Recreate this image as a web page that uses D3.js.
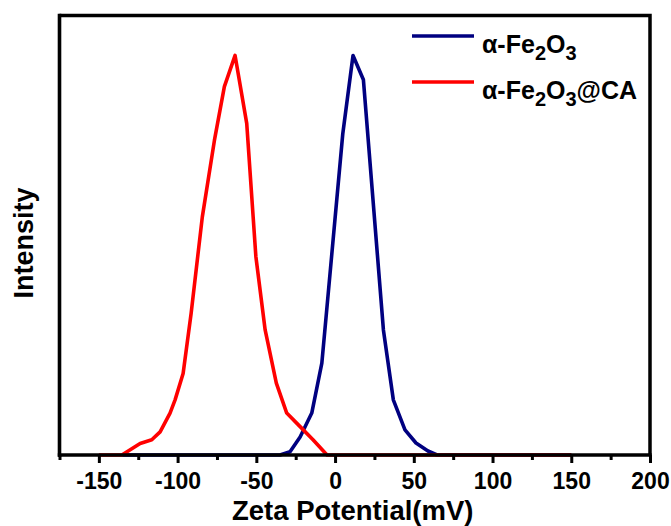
<!DOCTYPE html>
<html>
<head>
<meta charset="utf-8">
<script src="https://cdn.jsdelivr.net/npm/d3@7/dist/d3.min.js"></script>
<style>
  html, body { margin: 0; padding: 0; background: #fff; }
  svg text { font-family: "Liberation Sans", Arial, sans-serif; font-weight: bold; fill: #000; }
</style>
</head>
<body>
<svg id="chart" width="671" height="526"></svg>
<script>
// Zeta potential distributions (mV vs. relative intensity)
const feZeta      = [-135, -35, -28.6, -22.2, -14.8, -8.4, -6.3, 4.9, 11.4, 18, 30.7, 37, 44.4, 51.4, 59, 64.8, 150];
const feIntensity = [0, 0, 0.8, 4.5, 10.5, 23, 32, 80.4, 100, 93.9, 31.3, 13.8, 6.3, 3, 1, 0, 0];

const caZeta      = [-150, -135.4, -123.8, -116.4, -111.1, -104.8, -101.6, -96.5, -91.4, -84.3, -76.6, -70.3, -63.5, -56.1, -50.3, -44.4, -37.3, -30.7, -22.2, -14, -5.1, 150];
const caIntensity = [0, 0, 2.9, 3.8, 5.8, 10.5, 13.8, 20.4, 35.5, 59.6, 78.8, 92.2, 100, 83, 49.7, 31.3, 18, 10.5, 7.1, 3.8, 0, 0];

const xMajorTicks = [-150, -100, -50, 0, 50, 100, 150, 200];
const xMinorTicks = [-175, -125, -75, -25, 25, 75, 125, 175];

const seriesNames  = ["α-Fe2O3", "α-Fe2O3@CA"];
const seriesColors = ["#000080", "#ff0000"];

const svg = d3.select("#chart");
const plotL = 59.5, plotR = 650, plotT = 15.5, plotB = 455;

const x = d3.scaleLinear().domain([-175, 200]).range([plotL, plotR]);
const y = d3.scaleLinear().domain([0, 110]).range([plotB, plotT]);

const line = d3.line().x(d => x(d[0])).y(d => y(d[1]));

const series = [
  d3.zip(feZeta, feIntensity),
  d3.zip(caZeta, caIntensity)
];

// curves
series.forEach((pts, i) => {
  svg.append("path")
    .datum(pts)
    .attr("d", line)
    .attr("fill", "none")
    .attr("stroke", seriesColors[i])
    .attr("stroke-width", 3.6)
    .attr("stroke-linejoin", "round");
});

// frame (top and right)
svg.append("path")
  .attr("d", `M${plotL},${plotT}H${plotR}V${plotB}`)
  .attr("fill", "none").attr("stroke", "#000").attr("stroke-width", 3.5);

// left axis line (no ticks)
svg.append("line")
  .attr("x1", plotL).attr("x2", plotL).attr("y1", plotT - 1.7).attr("y2", plotB + 1.7)
  .attr("stroke", "#000").attr("stroke-width", 3.6);

// bottom axis with major ticks
const xAxis = d3.axisBottom(x).tickValues(xMajorTicks).tickSize(8).tickSizeOuter(0).tickPadding(8)
  .tickFormat(d => String(d));
const gx = svg.append("g").attr("transform", `translate(0,${plotB})`).call(xAxis);
gx.select(".domain").attr("stroke-width", 3.5).attr("d", `M${plotL - 1.7},0H${plotR + 1.7}`);
gx.selectAll(".tick line").attr("stroke-width", 3);
gx.selectAll(".tick text").attr("font-size", 23).attr("font-weight", "bold")
  .attr("font-family", "'Liberation Sans', Arial, sans-serif").attr("dy", "0.78em");

// minor ticks
const xMinor = d3.axisBottom(x).tickValues(xMinorTicks).tickSize(5).tickFormat("");
const gm = svg.append("g").attr("transform", `translate(0,${plotB})`).call(xMinor);
gm.select(".domain").remove();
gm.selectAll(".tick line").attr("stroke-width", 3);

// axis titles
svg.append("text")
  .attr("x", (plotL + plotR) / 2 - 2).attr("y", 520)
  .attr("text-anchor", "middle").attr("font-size", 27.5)
  .text("Zeta Potential(mV)");

svg.append("text")
  .attr("transform", "translate(33,243) rotate(-90)")
  .attr("text-anchor", "middle").attr("font-size", 27)
  .text("Intensity");

// legend
const legendRows = [
  { y: 36, parts: [["α-Fe", 0], ["2", 1], ["O", 0], ["3", 1]] },
  { y: 82, parts: [["α-Fe", 0], ["2", 1], ["O", 0], ["3", 1], ["@CA", 0]] }
];
legendRows.forEach((row, i) => {
  svg.append("line")
    .attr("x1", 412).attr("x2", 474).attr("y1", row.y).attr("y2", row.y)
    .attr("stroke", seriesColors[i]).attr("stroke-width", 3.7);
  const t = svg.append("text").attr("x", 482).attr("y", row.y + 17).attr("font-size", 25);
  let prevSub = 0;
  row.parts.forEach(([s, sub]) => {
    const shift = sub ? 7 : 0;
    t.append("tspan")
      .attr("dy", shift - prevSub)
      .attr("font-size", sub ? 20 : 25)
      .text(s);
    prevSub = shift;
  });
});
</script>
</body>
</html>
